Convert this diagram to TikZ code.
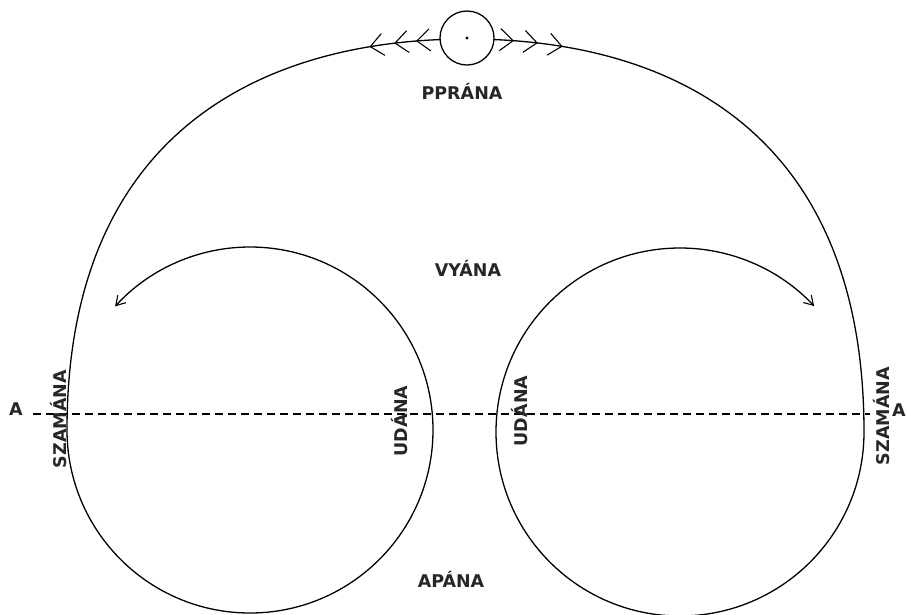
\documentclass[tikz,border=0pt]{standalone}
\usepackage{fontspec}
\setmainfont{DejaVu Sans}
\usetikzlibrary{arrows.meta,decorations.markings}
\begin{document}
\begin{tikzpicture}[x=1pt,y=-1pt,line width=1.3pt,
  lbl/.style={font=\bfseries\fontsize{17.5}{18}\selectfont, text=black!85, inner sep=0pt},
  vlbl/.style={lbl, rotate=90},
  bigtip/.style={-{Straight Barb[length=9pt,width=11pt,line width=1.1pt]}},
  leftmarks/.style={postaction={decorate},decoration={markings,
     mark=at position -98pt with {\arrowreversed{Straight Barb[length=13pt,width=22pt,line width=1.1pt]}},
     mark=at position -73pt with {\arrowreversed{Straight Barb[length=13pt,width=22pt,line width=1.1pt]}},
     mark=at position -51pt with {\arrowreversed{Straight Barb[length=13pt,width=22pt,line width=1.1pt]}}}},
  rightmarks/.style={postaction={decorate},decoration={markings,
     mark=at position 47pt with {\arrow{Straight Barb[length=13pt,width=22pt,line width=1.1pt]}},
     mark=at position 71pt with {\arrow{Straight Barb[length=13pt,width=22pt,line width=1.1pt]}},
     mark=at position 96pt with {\arrow{Straight Barb[length=13pt,width=22pt,line width=1.1pt]}}}}]
\useasboundingbox (0,0) rectangle (907,614);
\fill[white] (0,0) rectangle (907,614);

% key points
\coordinate (L) at (67,430);
\coordinate (T) at (467,39);
\coordinate (R) at (864,432);
\coordinate (cl) at (250,430);
\coordinate (cr) at (680,432);

% outer curve
\draw[leftmarks] (L) .. controls (67,130) and (265,39) .. (T);
\draw[rightmarks] (T) .. controls (669,39) and (864,130) .. (R);

% top small circle
\node[circle, draw, fill=white, minimum size=54pt, inner sep=0pt] (sun) at (467,38) {};
\fill (sun.center) circle[radius=1.6pt];

% inner circles (vyana arrows)
\draw[bigtip] (L) arc[start angle=180, end angle=-137.5, radius=183];
\draw[bigtip] (R) arc[start angle=0, end angle=316.8, radius=184];

% axis
\node[lbl] (Al) at (16,409) {A};
\node[lbl] (Ar) at (899,410) {A};
\coordinate (d1) at (33,414);
\coordinate (d2) at (870,414);
\draw[dash pattern=on 8pt off 5pt, line width=1.3pt] (d1) -- (d2);

% labels
\node[lbl] (pprana) at (462,91) {PPRÁNA};
\node[lbl] (vyana) at (468,268) {VYÁNA};
\node[lbl] (apana) at (451,579) {APÁNA};
\node[vlbl] (szl) at (59,419) {SZAMÁNA};
\node[vlbl] (szr) at (881,416) {SZAMÁNA};
\node[vlbl] (udl) at (400,421) {UDÁNA};
\node[vlbl] (udr) at (520,411) {UDÁNA};
\end{tikzpicture}
\end{document}
